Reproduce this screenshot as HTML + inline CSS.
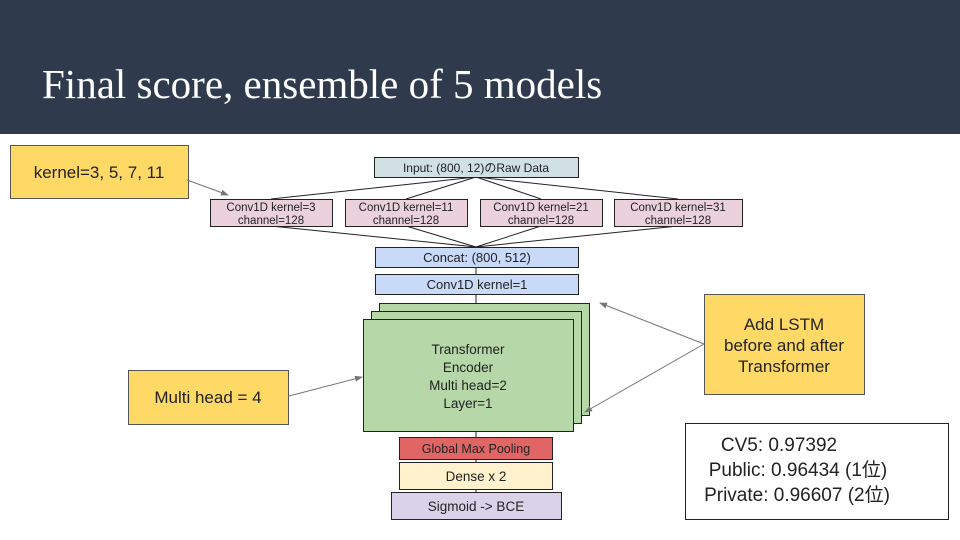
<!DOCTYPE html>
<html><head><meta charset="utf-8"><style>
html,body{margin:0;padding:0;width:960px;height:540px;overflow:hidden;background:#fff}
svg text{font-family:"Liberation Sans","Noto Sans CJK JP",sans-serif;fill:#222}
</style></head><body>
<svg width="960" height="540" viewBox="0 0 960 540" xmlns="http://www.w3.org/2000/svg">
<defs><marker id="a" markerWidth="8" markerHeight="8" refX="7" refY="4" orient="auto" markerUnits="userSpaceOnUse"><path d="M0,1 L8,4 L0,7 z" fill="#777"/></marker></defs>
<rect x="0" y="0" width="960" height="134" fill="#2f3a4d"/>
<text x="42" y="98" style="font-family:'Liberation Serif',serif;font-size:41px;fill:#fff">Final score, ensemble of 5 models</text>

<g stroke="#222" stroke-width="1">
<line x1="476" y1="177" x2="271" y2="199"/>
<line x1="476" y1="177" x2="406" y2="199"/>
<line x1="476" y1="177" x2="541" y2="199"/>
<line x1="476" y1="177" x2="678" y2="199"/>
<line x1="271" y1="226" x2="476" y2="247"/>
<line x1="406" y1="226" x2="476" y2="247"/>
<line x1="541" y1="226" x2="476" y2="247"/>
<line x1="678" y1="226" x2="476" y2="247"/>
<line x1="476" y1="267" x2="476" y2="274"/>
<line x1="476" y1="294" x2="476" y2="304"/>
<line x1="476" y1="431" x2="476" y2="437"/>
<line x1="476" y1="459" x2="476" y2="462"/>
<line x1="476" y1="489" x2="476" y2="492"/>
</g>

<rect x="374.5" y="157.5" width="204" height="20" fill="#d0e0e3" stroke="#222"/>
<text x="476" y="172" font-size="12" text-anchor="middle">Input: (800, 12)のRaw Data</text>

<g fill="#ead1dc" stroke="#222">
<rect x="210.5" y="199.5" width="122" height="27"/>
<rect x="345.5" y="199.5" width="122" height="27"/>
<rect x="480.5" y="199.5" width="122" height="27"/>
<rect x="614.5" y="199.5" width="128" height="27"/>
</g>
<g font-size="11.5" text-anchor="middle">
<text x="271" y="211">Conv1D kernel=3</text><text x="271" y="224">channel=128</text>
<text x="406" y="211">Conv1D kernel=11</text><text x="406" y="224">channel=128</text>
<text x="541" y="211">Conv1D kernel=21</text><text x="541" y="224">channel=128</text>
<text x="678" y="211">Conv1D kernel=31</text><text x="678" y="224">channel=128</text>
</g>

<rect x="375.5" y="247.5" width="203" height="20" fill="#c9daf8" stroke="#222"/>
<text x="477" y="262" font-size="13" text-anchor="middle">Concat: (800, 512)</text>
<rect x="375.5" y="274.5" width="203" height="20" fill="#c9daf8" stroke="#222"/>
<text x="477" y="289" font-size="13" text-anchor="middle">Conv1D kernel=1</text>

<g fill="#b6d7a8" stroke="#222">
<rect x="379.5" y="303.5" width="210" height="112"/>
<rect x="371.5" y="311.5" width="210" height="112"/>
<rect x="363.5" y="319.5" width="210" height="112"/>
</g>
<g font-size="13.5" text-anchor="middle">
<text x="468" y="354">Transformer</text>
<text x="468" y="372">Encoder</text>
<text x="468" y="390">Multi head=2</text>
<text x="468" y="408">Layer=1</text>
</g>

<rect x="399.5" y="437.5" width="153" height="22" fill="#e06666" stroke="#222"/>
<text x="476" y="453" font-size="12.5" text-anchor="middle">Global Max Pooling</text>
<rect x="399.5" y="462.5" width="153" height="27" fill="#fff2cc" stroke="#222"/>
<text x="476" y="481" font-size="13.5" text-anchor="middle">Dense x 2</text>
<rect x="391.5" y="492.5" width="170" height="27" fill="#d9d2e9" stroke="#222"/>
<text x="476" y="511" font-size="13.5" text-anchor="middle">Sigmoid -&gt; BCE</text>

<rect x="10.5" y="145.5" width="178" height="53" fill="#ffd966" stroke="#555"/>
<text x="99" y="178" font-size="17" text-anchor="middle">kernel=3, 5, 7, 11</text>
<line x1="187" y1="180" x2="228" y2="195" stroke="#777" marker-end="url(#a)"/>

<rect x="128.5" y="370.5" width="160" height="54" fill="#ffd966" stroke="#555"/>
<text x="208" y="403" font-size="17" text-anchor="middle">Multi head = 4</text>
<line x1="289" y1="396" x2="362" y2="377" stroke="#777" marker-end="url(#a)"/>

<rect x="704.5" y="294.5" width="160" height="100" fill="#ffd966" stroke="#555"/>
<g font-size="17" text-anchor="middle">
<text x="784" y="330">Add LSTM</text>
<text x="784" y="351">before and after</text>
<text x="784" y="372">Transformer</text>
</g>
<line x1="704" y1="344" x2="600" y2="303" stroke="#777" marker-end="url(#a)"/>
<line x1="704" y1="344" x2="585" y2="412" stroke="#777" marker-end="url(#a)"/>

<rect x="685.5" y="423.5" width="263" height="96" fill="#fff" stroke="#222"/>
<g font-size="19" text-anchor="middle">
<text x="779" y="451">CV5: 0.97392</text>
<text x="798" y="476">Public: 0.96434 (1位)</text>
<text x="797" y="501">Private: 0.96607 (2位)</text>
</g>
</svg>
</body></html>
